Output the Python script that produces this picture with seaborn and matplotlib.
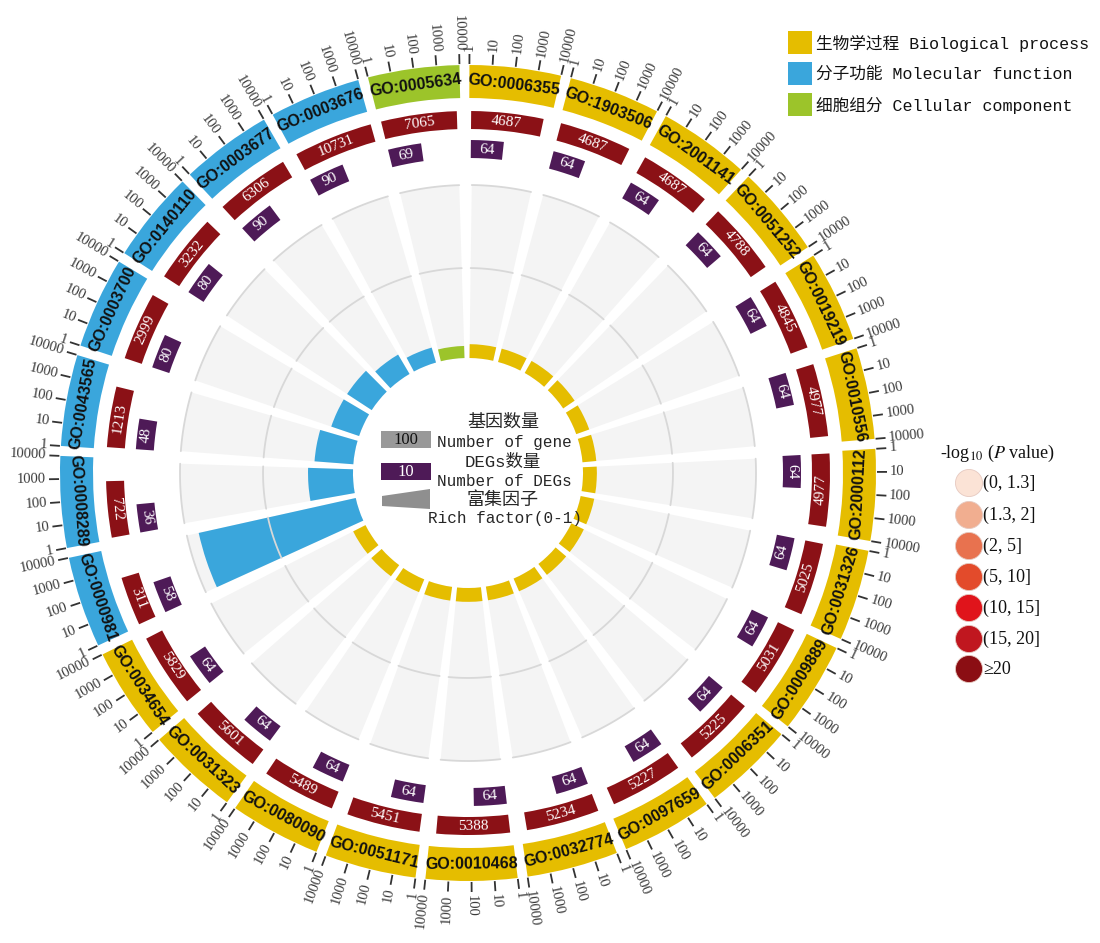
import numpy as np
import pandas as pd
import matplotlib
matplotlib.use("Agg")
import matplotlib.pyplot as plt
from matplotlib.patches import Rectangle, Polygon
import seaborn as sns

sns.set_theme(style="white")
plt.rcParams["font.family"] = ["Liberation Sans", "Noto Sans CJK SC", "DejaVu Sans"]
plt.rcParams["mathtext.fontset"] = "stix"

# ---- data (clockwise from 12 o'clock) ----
go_ids = ["GO:0006355", "GO:1903506", "GO:2001141", "GO:0051252", "GO:0019219",
          "GO:0010556", "GO:2000112", "GO:0031326", "GO:0009889", "GO:0006351",
          "GO:0097659", "GO:0032774", "GO:0010468", "GO:0051171", "GO:0080090",
          "GO:0031323", "GO:0034654",
          "GO:0000981", "GO:0008289", "GO:0043565", "GO:0003700", "GO:0140110",
          "GO:0003677", "GO:0003676",
          "GO:0005634"]
ontology = ["BP"] * 17 + ["MF"] * 7 + ["CC"]
gene_num = [4687, 4687, 4687, 4788, 4845, 4977, 4977, 5025, 5031, 5225, 5227, 5234,
            5388, 5451, 5489, 5601, 5829,
            311, 722, 1213, 2999, 3232, 6306, 10731,
            7065]
deg_num = [64] * 17 + [58, 36, 48, 80, 80, 90, 90] + [69]
rich_factor = [0.08] * 17 + [0.93, 0.26, 0.225, 0.17, 0.17, 0.13, 0.09] + [0.07]
tick_labels = ["1", "10", "100", "1000", "10000"]

onto_names = ["生物学过程 Biological process", "分子功能 Molecular function",
              "细胞组分 Cellular component"]
onto_colors = {"BP": "#e5bd00", "MF": "#3aa6dc", "CC": "#9cc42a"}
p_labels = ["(0, 1.3]", "(1.3, 2]", "(2, 5]", "(5, 10]", "(10, 15]", "(15, 20]", "≥20"]
p_colors = ["#fbe3d6", "#f1ae90", "#e8724f", "#e34b2b", "#e0141b", "#c0171f", "#8b0e13"]
bar_red = "#8b1116"
bar_purple = "#4e1a57"

# ---- figure / polar axes centred on the circle ----
W, H = 1100, 943
fig = plt.figure(figsize=(W / 100, H / 100), dpi=100)
R = 480
cx, cy = 468, 473
ax = fig.add_axes([(cx - R) / W, (H - cy - R) / H, 2 * R / W, 2 * R / H], projection="polar")
ax.set_theta_zero_location("N")
ax.set_theta_direction(-1)
ax.set_ylim(0, R)
ax.set_axis_off()

n = len(go_ids)
step = 360 / n
band_w = 13.0
wedge_w = 11.9
r_in, r_out = 115, 288


def tang_rot(th):
    th = th % 360
    rot = -th
    if 90 < th < 270:
        rot += 180
    return rot


def rad_rot(th):
    th = th % 360
    if th < 180:
        return 90 - th, "left"
    return 270 - th, "right"


for i, (go, ont) in enumerate(zip(go_ids, ontology)):
    s = i * step + 0.2
    col = onto_colors[ont]
    mid = s + band_w / 2

    # outer category band
    ax.bar(np.deg2rad(s), 33, width=np.deg2rad(band_w), bottom=375, align="edge",
           color=col, linewidth=0)
    ax.text(np.deg2rad(mid), 391, go, rotation=tang_rot(mid), rotation_mode="anchor",
            ha="center", va="center", fontsize=11.5, fontweight="bold",
            family="Liberation Sans", color="#111111")

    # log-scale ticks 1..10000
    for k, lab in enumerate(tick_labels):
        th = s + k / 4 * band_w
        ax.plot([np.deg2rad(th)] * 2, [409, 419], color="#333333", lw=1.3,
                solid_capstyle="butt")
        rot, ha = rad_rot(th)
        ax.text(np.deg2rad(th), 422, lab, rotation=rot, rotation_mode="anchor",
                ha=ha, va="center", fontsize=10.5, family="Liberation Serif",
                color="#3a3a3a")

    # number of genes (log10 length)
    gw = np.log10(gene_num[i]) / 4 * 12.6
    ax.bar(np.deg2rad(s + 0.3), 18, width=np.deg2rad(gw), bottom=344, align="edge",
           color=bar_red, linewidth=0)
    gm = s + 0.3 + gw / 2
    ax.text(np.deg2rad(gm), 353, str(gene_num[i]), rotation=tang_rot(gm),
            rotation_mode="anchor", ha="center", va="center", fontsize=11,
            family="Liberation Serif", color="white")

    # number of DEGs (log10 length)
    dw = np.log10(deg_num[i]) / 4 * 12.6
    ax.bar(np.deg2rad(s + 0.3), 18, width=np.deg2rad(dw), bottom=315, align="edge",
           color=bar_purple, linewidth=0)
    dm = s + 0.3 + dw / 2
    ax.text(np.deg2rad(dm), 324, str(deg_num[i]), rotation=tang_rot(dm),
            rotation_mode="anchor", ha="center", va="center", fontsize=11,
            family="Liberation Serif", color="white")

    # rich factor track: background wedge + grid + bar
    ws = s + (band_w - wedge_w) / 2
    ax.bar(np.deg2rad(ws), r_out - r_in, width=np.deg2rad(wedge_w), bottom=r_in,
           align="edge", color="#f4f4f4", linewidth=0)
    arc = np.deg2rad(np.linspace(ws, ws + wedge_w, 30))
    for rr in (r_in + 0.52 * (r_out - r_in), r_out):
        ax.plot(arc, [rr] * len(arc), color="#d8d8d8", lw=1.3)
    ax.bar(np.deg2rad(ws), rich_factor[i] * (r_out - r_in), width=np.deg2rad(wedge_w),
           bottom=r_in, align="edge", color=col, linewidth=0)

# ---- overlay axes in pixel coordinates for legends ----
lax = fig.add_axes([0, 0, 1, 1])
lax.set_axis_off()

# p-value legend circles via seaborn
pdf = pd.DataFrame({"x": [969] * len(p_labels),
                    "y": [483, 515, 546, 577, 608, 639, 669],
                    "lab": p_labels})
sns.scatterplot(data=pdf, x="x", y="y", hue="lab", palette=p_colors, s=380,
                edgecolor="#e6c9c0", linewidth=0.6, legend=False, ax=lax)
for y, lab in zip(pdf["y"], p_labels):
    lax.text(983, y, lab, ha="left", va="center", fontsize=13,
             family="Liberation Serif", color="#111111")
lax.text(940, 453, r"-log$_{10}$ ($\it{P}$ value)", ha="left", va="center",
         fontsize=13, family="Liberation Serif", color="#111111")

# ontology legend
leg_font = ["Liberation Mono", "Noto Sans CJK SC"]
for j, (name, key) in enumerate(zip(onto_names, ["BP", "MF", "CC"])):
    y = 43 + j * 31
    lax.add_patch(Rectangle((788, y - 12), 24, 23, color=onto_colors[key], lw=0))
    lax.text(816, y, name, ha="left", va="center", fontsize=12, family=leg_font,
             color="#111111")

# centre legend
lax.add_patch(Rectangle((381, 431), 50, 17, color="#999999", lw=0))
lax.text(406, 440, "100", ha="center", va="center", fontsize=12,
         family="Liberation Serif", color="#111111")
lax.add_patch(Rectangle((381, 463), 50, 17, color=bar_purple, lw=0))
lax.text(406, 472, "10", ha="center", va="center", fontsize=12,
         family="Liberation Serif", color="white")
lax.add_patch(Polygon([(382, 496), (430, 489), (430, 509), (382, 506)],
                      closed=True, color="#8f8f8f", lw=0))
lax.text(503, 422, "基因数量", ha="center", va="center", fontsize=13, family=leg_font)
lax.text(437, 443, "Number of gene", ha="left", va="center", fontsize=11.5, family=leg_font)
lax.text(503, 462, "DEGs数量", ha="center", va="center", fontsize=12.5, family=leg_font)
lax.text(437, 481, "Number of DEGs", ha="left", va="center", fontsize=11.5, family=leg_font)
lax.text(503, 500, "富集因子", ha="center", va="center", fontsize=13, family=leg_font)
lax.text(428, 519, "Rich factor(0-1)", ha="left", va="center", fontsize=11.5, family=leg_font)

lax.set_xlim(0, W)
lax.set_ylim(H, 0)

fig.savefig("out.png", dpi=100)
